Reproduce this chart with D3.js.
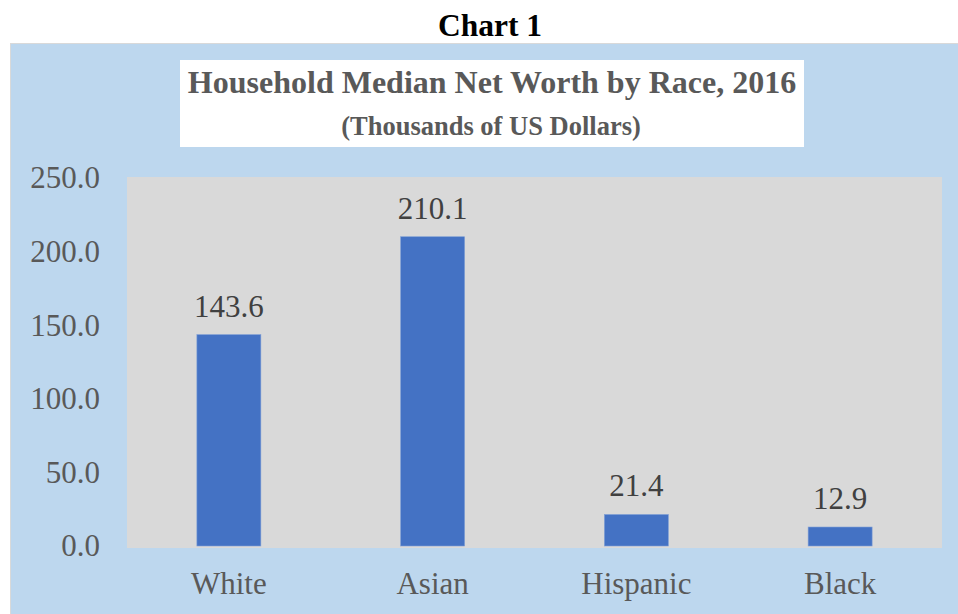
<!DOCTYPE html>
<html>
<head>
<meta charset="utf-8">
<script src="https://cdn.jsdelivr.net/npm/d3@7"></script>
<style>
  html, body { margin: 0; padding: 0; background: #ffffff; }
  svg { display: block; }
  text { font-family: "Liberation Serif", "Times New Roman", serif; }
</style>
</head>
<body>
<svg id="chart" width="958" height="614"></svg>
<script>
const categories = ["White", "Asian", "Hispanic", "Black"];
const values = [143.6, 210.1, 21.4, 12.9];
const yTicks = [0, 50, 100, 150, 200, 250];
const chartLabel = "Chart 1";
const titleText = "Household Median Net Worth by Race, 2016";
const subtitleText = "(Thousands of US Dollars)";

const svg = d3.select("#chart");

// outer label
svg.append("text")
  .attr("x", 490).attr("y", 36)
  .attr("text-anchor", "middle")
  .attr("font-size", 31.5).attr("font-weight", "bold")
  .attr("fill", "#000")
  .text(chartLabel);

// chart panel
svg.append("rect")
  .attr("x", 10.5).attr("y", 43.5).attr("width", 960).attr("height", 600)
  .attr("fill", "#bdd7ee").attr("stroke", "#d9d9d9").attr("stroke-width", 1);

// title box
svg.append("rect")
  .attr("x", 180).attr("y", 60).attr("width", 624).attr("height", 87)
  .attr("fill", "#ffffff");
svg.append("text")
  .attr("x", 492).attr("y", 93)
  .attr("text-anchor", "middle")
  .attr("font-size", 32).attr("font-weight", "bold")
  .attr("fill", "#595959")
  .text(titleText);
svg.append("text")
  .attr("x", 491).attr("y", 135)
  .attr("text-anchor", "middle")
  .attr("font-size", 26.5).attr("font-weight", "bold")
  .attr("fill", "#595959")
  .text(subtitleText);

// plot area
const plot = { left: 127, right: 942, top: 177, bottom: 548 };
svg.append("rect")
  .attr("x", plot.left).attr("y", plot.top)
  .attr("width", plot.right - plot.left).attr("height", plot.bottom - plot.top)
  .attr("fill", "#d9d9d9");

const x = d3.scaleBand().domain(categories).range([plot.left, plot.right]).paddingInner(0.686).paddingOuter(0.343);
const y = d3.scaleLinear().domain([0, 250]).range([546, 178]);

// bars
svg.append("g").selectAll("rect")
  .data(categories.map((c, i) => ({ c, v: values[i] })))
  .join("rect")
  .attr("x", d => x(d.c)).attr("width", x.bandwidth())
  .attr("y", d => y(d.v)).attr("height", d => y(0) - y(d.v))
  .attr("fill", "#4472c4")
  .attr("stroke", "#7f9fd6").attr("stroke-width", 0.6);

// value labels
svg.append("g").selectAll("text")
  .data(categories.map((c, i) => ({ c, v: values[i] })))
  .join("text")
  .attr("x", d => x(d.c) + x.bandwidth() / 2)
  .attr("y", d => y(d.v) - 18)
  .attr("text-anchor", "middle")
  .attr("font-size", 31)
  .attr("fill", "#404040")
  .text(d => d.v.toFixed(1));

// y axis
const yAxis = svg.append("g")
  .attr("transform", `translate(${plot.left},0)`)
  .call(d3.axisLeft(y).tickValues(yTicks).tickFormat(d3.format(".1f")).tickSize(0).tickPadding(27));
yAxis.select(".domain").remove();
yAxis.selectAll("text")
  .attr("font-family", "Liberation Serif, Times New Roman, serif")
  .attr("font-size", 31).attr("fill", "#595959").attr("dy", "0.32em");

// x axis
const xAxis = svg.append("g")
  .attr("transform", `translate(0,${plot.bottom})`)
  .call(d3.axisBottom(x).tickSize(0).tickPadding(24));
xAxis.select(".domain").remove();
xAxis.selectAll("text")
  .attr("font-family", "Liberation Serif, Times New Roman, serif")
  .attr("font-size", 31).attr("fill", "#595959").attr("dy", "0.71em");
</script>
</body>
</html>
